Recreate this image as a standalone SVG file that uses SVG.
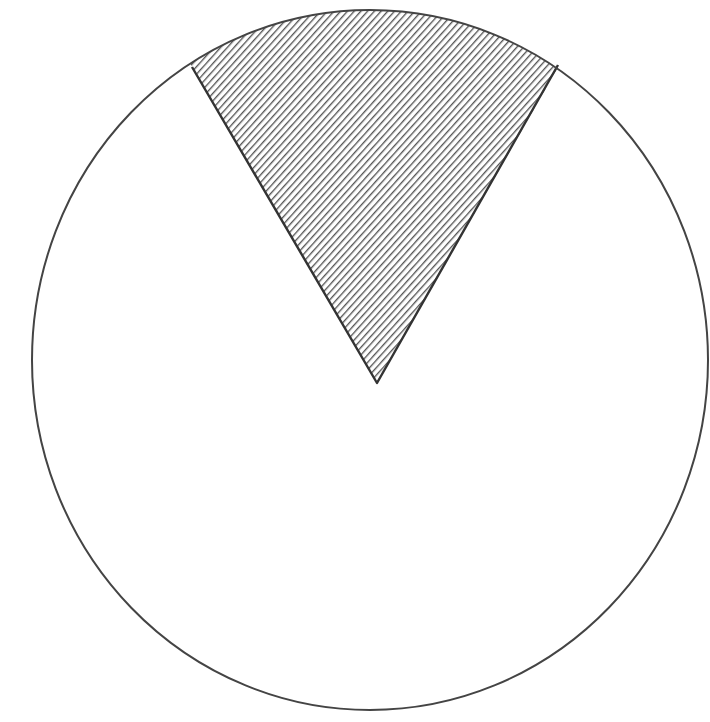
<svg xmlns="http://www.w3.org/2000/svg" width="710" height="722" viewBox="0 0 710 722">
<defs>
<pattern id="hatch" width="5" height="5" patternUnits="userSpaceOnUse" patternTransform="rotate(42)">
<rect width="5" height="5" fill="#ffffff"/>
<line x1="0" y1="0" x2="0" y2="5" stroke="#555" stroke-width="2.7"/>
</pattern>
<clipPath id="wedge">
<path d="M377,383 L160,12 L150,-20 L600,-20 L585,20 Z"/>
</clipPath>
<style>
.outline{fill:none;stroke:#444;stroke-width:2}
</style>
</defs>
<rect width="710" height="722" fill="#ffffff"/>
<g id="sector">
<ellipse cx="370" cy="360" rx="338" ry="350" fill="url(#hatch)" clip-path="url(#wedge)"/>
<path d="M192,67 L377,383 L558,65" fill="none" stroke="#333" stroke-width="2.4" stroke-linejoin="round"/>
</g>
<g id="circle">
<ellipse class="outline" cx="370" cy="360" rx="338" ry="350"/>
</g>
</svg>
